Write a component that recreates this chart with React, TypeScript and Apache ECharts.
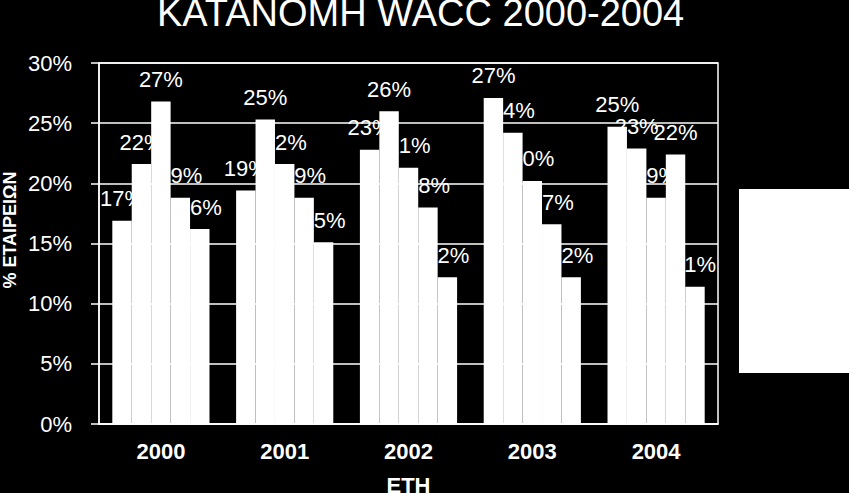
import React, { useEffect, useRef } from "react";
import * as echarts from "echarts";

const years = ["2000", "2001", "2002", "2003", "2004"];
const seriesNames = ["Σειρά 1", "Σειρά 2", "Σειρά 3", "Σειρά 4", "Σειρά 5"];
// values per year (percent of companies), one entry per series
const y2000 = [16.9, 21.6, 26.8, 18.8, 16.2];
const y2001 = [19.4, 25.3, 21.6, 18.8, 15.1];
const y2002 = [22.8, 26.0, 21.3, 18.0, 12.2];
const y2003 = [27.1, 24.2, 20.2, 16.6, 12.2];
const y2004 = [24.7, 22.9, 18.8, 22.4, 11.4];
const yearValues = [y2000, y2001, y2002, y2003, y2004];

const titleText = "ΚΑΤΑΝΟΜΗ WACC 2000-2004";
const yName = "% ΕΤΑΙΡΕΙΩΝ";
const xName = "ΕΤΗ";

const FONT = "'Liberation Sans', Arial, Helvetica, sans-serif";

export default function App() {
  const ref = useRef<HTMLDivElement>(null);
  useEffect(() => {
    if (!ref.current) return;
    const chart = echarts.init(ref.current, undefined, { renderer: "svg" });
    const series = seriesNames.map((name, k) => ({
      name,
      type: "bar",
      data: yearValues.map((v) => v[k]),
      itemStyle: { color: "#ffffff" },
      barGap: "0%",
      barCategoryGap: "21.5%",
      label: {
        show: true,
        position: "top",
        distance: 11,
        color: "#ffffff",
        fontFamily: FONT,
        fontSize: 22,
        textBorderWidth: 0,
        formatter: (p: any) => Math.round(p.value) + "%",
      },
    }));
    chart.setOption({
      animation: false,
      backgroundColor: "#000000",
      title: {
        text: titleText,
        left: 152,
        top: -11,
        textStyle: {
          color: "#ffffff",
          fontFamily: FONT,
          fontSize: 38,
          fontWeight: "normal",
        },
      },
      grid: {
        left: 99,
        right: 131,
        top: 63,
        bottom: 69,
        outerBoundsMode: "none",
        containLabel: false,
        show: true,
        borderColor: "#ffffff",
        borderWidth: 1.5,
        backgroundColor: "transparent",
      },
      xAxis: {
        type: "category",
        data: years,
        name: xName,
        nameLocation: "middle",
        nameGap: 50,
        nameTextStyle: {
          color: "#ffffff",
          fontFamily: FONT,
          fontSize: 22,
          fontWeight: "bold",
        },
        axisLine: { lineStyle: { color: "#ffffff", width: 1.5 } },
        axisTick: { show: false },
        axisLabel: {
          color: "#ffffff",
          fontFamily: FONT,
          fontSize: 22,
          fontWeight: "bold",
          margin: 16,
        },
      },
      yAxis: {
        type: "value",
        min: 0,
        max: 30,
        interval: 5,
        axisLine: { show: true, lineStyle: { color: "#ffffff", width: 1.5 } },
        axisTick: { show: true, length: 8, lineStyle: { color: "#ffffff", width: 1.5 } },
        splitLine: { lineStyle: { color: "#ffffff", width: 1.5 } },
        axisLabel: {
          color: "#ffffff",
          fontFamily: FONT,
          fontSize: 22,
          margin: 27,
          formatter: "{value}%",
        },
      },
      graphic: [
        {
          type: "text",
          x: 10,
          y: 230,
          rotation: Math.PI / 2,
          style: {
            text: yName,
            fill: "#ffffff",
            font: "bold 18px " + FONT,
            align: "center",
            verticalAlign: "middle",
          },
        },
        {
          type: "rect",
          shape: { x: 739, y: 189, width: 120, height: 184 },
          style: { fill: "#ffffff" },
        },
      ],
      series,
    });
    return () => chart.dispose();
  }, []);
  return (
    <div
      ref={ref}
      style={{ position: "fixed", left: 0, top: 0, width: 849, height: 493, background: "#000" }}
    />
  );
}
